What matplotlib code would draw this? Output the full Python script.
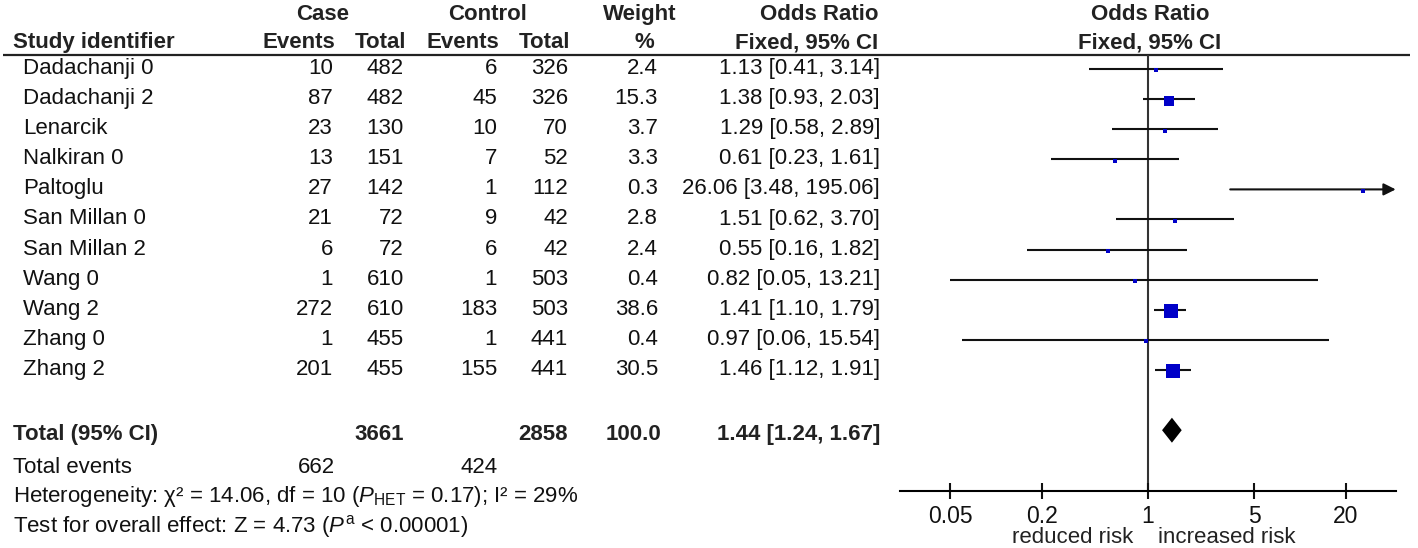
"""Forest plot: odds ratios per study, fixed effect."""

import matplotlib
matplotlib.use("Agg")
import matplotlib.pyplot as plt
import numpy as np

plt.rcParams["font.family"] = ["Liberation Sans", "DejaVu Sans"]
plt.rcParams["mathtext.fontset"] = "custom"
plt.rcParams["mathtext.rm"] = "Liberation Sans"
plt.rcParams["mathtext.it"] = "Liberation Sans:italic"

studies = ["Dadachanji 0", "Dadachanji 2", "Lenarcik", "Nalkiran 0", "Paltoglu", "San Millan 0",
           "San Millan 2", "Wang 0", "Wang 2", "Zhang 0", "Zhang 2"]
case_events = [10, 87, 23, 13, 27, 21, 6, 1, 272, 1, 201]
case_total = [482, 482, 130, 151, 142, 72, 72, 610, 610, 455, 455]
ctrl_events = [6, 45, 10, 7, 1, 9, 6, 1, 183, 1, 155]
ctrl_total = [326, 326, 70, 52, 112, 42, 42, 503, 503, 441, 441]
weight = [2.4, 15.3, 3.7, 3.3, 0.3, 2.8, 2.4, 0.4, 38.6, 0.4, 30.5]
odds = [1.13, 1.38, 1.29, 0.61, 26.06, 1.51, 0.55, 0.82, 1.41, 0.97, 1.46]
ci_low = [0.41, 0.93, 0.58, 0.23, 3.48, 0.62, 0.16, 0.05, 1.10, 0.06, 1.12]
ci_high = [3.14, 2.03, 2.89, 1.61, 195.06, 3.70, 1.82, 13.21, 1.79, 15.54, 1.91]

total_case, total_ctrl, total_weight = 3661, 2858, 100.0
total_or, total_low, total_high = 1.44, 1.24, 1.67
events_case, events_ctrl = 662, 424
heterogeneity = "Heterogeneity: χ² = 14.06, df = 10 ($\\mathit{P}_{\\mathrm{HET}}$ = 0.17); I² = 29%"
overall = "Test for overall effect: Z = 4.73 ($\\mathit{P}^{\\mathrm{a}}$ < 0.00001)"
tick_values = [0.05, 0.2, 1, 5, 20]
tick_labels = ["0.05", "0.2", "1", "5", "20"]

W, H = 1418, 548
FS = 16
BLUE = "#0000c8"
INK = "#111111"

fig = plt.figure(figsize=(W / 100, H / 100), dpi=100)
tab = fig.add_axes([0, 0, 1, 1])
tab.set_xlim(0, W); tab.set_ylim(H, 0); tab.axis("off")


def row_y(i):
    return 69 + 30.1 * i


# column right edges (pixels)
cols = [333, 404, 497, 568, 658, 880]
left = 13

# header
bold = dict(fontsize=FS, fontweight="bold", color="#222222")
tab.text(323, 20, "Case", ha="center", **bold)
tab.text(488, 20, "Control", ha="center", **bold)
tab.text(640, 20, "Weight", ha="center", **bold)
tab.text(878, 20, "Odds Ratio", ha="right", **bold)
tab.text(left, 48, "Study identifier", ha="left", **bold)
for x, lab in zip(cols[:4], ["Events", "Total", "Events", "Total"]):
    tab.text(x + 2, 48, lab, ha="right", **bold)
tab.text(644, 48, "%", ha="center", **bold)
tab.text(878, 48, "Fixed, 95% CI", ha="right", **bold)
tab.text(1150, 20, "Odds Ratio", ha="center", **bold)
tab.text(1150, 48, "Fixed, 95% CI", ha="center", **bold)
tab.plot([3, 1410], [55, 55], color="#222222", lw=1.6, solid_capstyle="butt")

# study rows
for i, name in enumerate(studies):
    yb = row_y(i) + 5
    vals = [str(case_events[i]), str(case_total[i]), str(ctrl_events[i]), str(ctrl_total[i]),
            f"{weight[i]:.1f}", f"{odds[i]:.2f} [{ci_low[i]:.2f}, {ci_high[i]:.2f}]"]
    tab.text(23, yb, name, fontsize=FS, ha="left", color=INK)
    for x, v in zip(cols, vals):
        tab.text(x, yb, v, fontsize=FS, ha="right", color=INK)

# totals
yt = 440
tab.text(left, yt, "Total (95% CI)", ha="left", **bold)
tab.text(cols[1], yt, str(total_case), ha="right", **bold)
tab.text(cols[3], yt, str(total_ctrl), ha="right", **bold)
tab.text(cols[4] + 3, yt, f"{total_weight:.1f}", ha="right", **bold)
tab.text(cols[5], yt, f"{total_or:.2f} [{total_low:.2f}, {total_high:.2f}]", ha="right", **bold)
tab.text(left, 473, "Total events", fontsize=FS, ha="left", color=INK)
tab.text(cols[0] + 2, 473, str(events_case), fontsize=FS, ha="right", color=INK)
tab.text(cols[2] + 1, 473, str(events_ctrl), fontsize=FS, ha="right", color=INK)
tab.text(left, 502, heterogeneity, fontsize=FS, ha="left", color=INK)
tab.text(left, 532, overall, fontsize=FS, ha="left", color=INK)

# forest panel
x0, x1, ytop, ybot = 900, 1395.7, 55, 490.7
ax = fig.add_axes([x0 / W, 1 - ybot / H, (x1 - x0) / W, (ybot - ytop) / H])
ax.set_xscale("log")
ax.set_xlim(0.02346, 42.63)
ax.set_ylim(ybot, ytop)
ax.patch.set_alpha(0)
for side in ["top", "right", "left"]:
    ax.spines[side].set_visible(False)
ax.spines["bottom"].set_linewidth(1.5)
ax.set_yticks([])
ax.set_xticks(tick_values)
ax.set_xticklabels(tick_labels, fontsize=FS + 0.5)
ax.minorticks_off()
ax.tick_params(axis="x", direction="inout", length=11, width=1.5, pad=5, colors=INK)
ax.axvline(1, color="#333333", lw=1.5, zorder=1)

xmax = ax.get_xlim()[1]
for i in range(len(studies)):
    y = row_y(i)
    if ci_high[i] > xmax:
        ax.annotate("", xy=(xmax, y), xytext=(ci_low[i], y), annotation_clip=False,
                    arrowprops=dict(arrowstyle="-|>", color=INK, lw=1.5, mutation_scale=18,
                                    shrinkA=0, shrinkB=0))
    else:
        ax.plot([ci_low[i], ci_high[i]], [y, y], color=INK, lw=1.5, solid_capstyle="butt", zorder=2)
    side = max(4.0, 2.4 * np.sqrt(weight[i]))
    ax.plot([odds[i]], [y + 1.5], marker="s", color=BLUE, markersize=side * 0.72,
            markeredgewidth=0, zorder=4)

yd = row_y(12)
ax.fill([total_low, total_or, total_high, total_or], [yd, yd - 12.5, yd, yd + 12.5],
        color="black", lw=0, zorder=4)

tab.text(1133, 543, "reduced risk", fontsize=FS, ha="right", color="#222222")
tab.text(1158, 543, "increased risk", fontsize=FS, ha="left", color="#222222")

fig.savefig("out.png", dpi=100)
